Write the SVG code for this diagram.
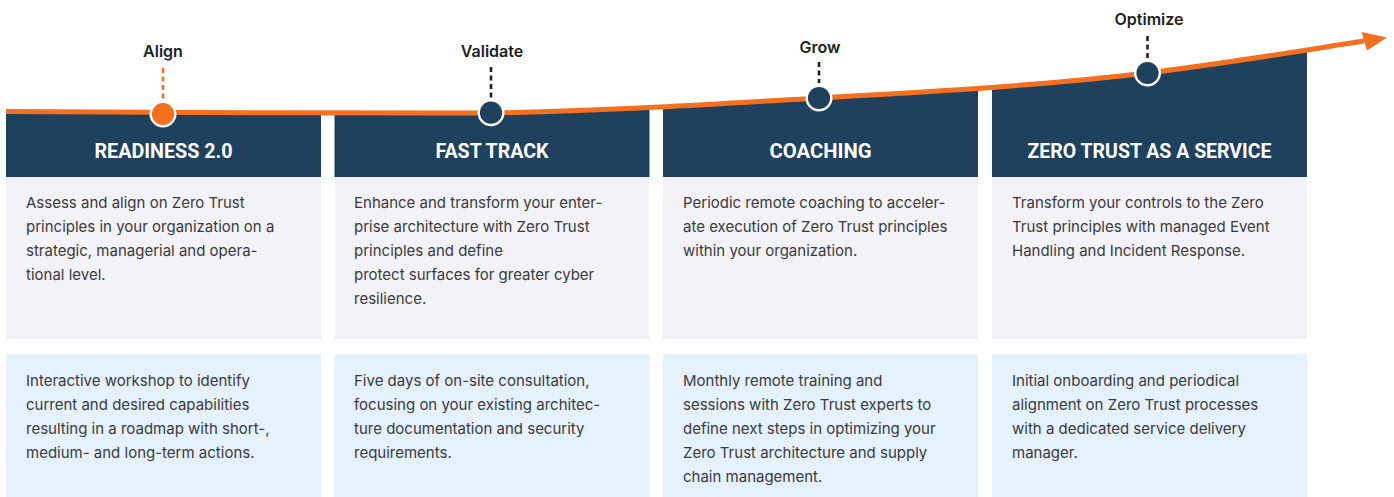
<svg xmlns="http://www.w3.org/2000/svg" width="1394" height="497" viewBox="0 0 1394 497">
  <style>
    .hdr { fill: #20415e; }
    .grey { fill: #f3f2f6; }
    .blue { fill: #e5f1fc; }
    .title { font-family: Roboto, "Liberation Sans", sans-serif; font-weight: 700; font-size: 20px; fill: #ffffff; text-anchor: middle; }
    .body { font-family: Inter, "Noto Sans", sans-serif; font-size: 15px; fill: #3a3a3a; }
    .label { font-family: Inter, "Noto Sans", sans-serif; font-weight: 600; font-size: 16px; fill: #222222; text-anchor: middle; }
    .dash { stroke-width: 2.6; stroke-dasharray: 5 3.5; fill: none; }
    .dot { stroke: #ffffff; stroke-width: 2.4; }
  </style>
  <defs>
    <clipPath id="underCurve">
      <path d="M6,111.5 C167,112.5 330,113.5 491,113 C600,111 710,104.5 819,98 C928,91.5 1038,86.1 1147,73 C1219,64.4 1292,52.2 1364,41 L1394,41 L1394,177 L6,177 Z"/>
    </clipPath>
  </defs>
  <rect width="1394" height="497" fill="#ffffff"/>

  <g id="col-readiness">
    <rect class="hdr" x="6" y="0" width="315" height="177" clip-path="url(#underCurve)"/>
    <text class="title" x="163.5" y="158" textLength="138" lengthAdjust="spacingAndGlyphs">READINESS 2.0</text>
    <rect class="grey" x="6" y="177" width="315" height="162"/>
    <text class="body" x="26" y="208">Assess and align on Zero Trust</text>
    <text class="body" x="26" y="232">principles in your organization on a</text>
    <text class="body" x="26" y="256">strategic, managerial and opera-</text>
    <text class="body" x="26" y="280">tional level.</text>
    <rect class="blue" x="6" y="354" width="315" height="143"/>
    <text class="body" x="26" y="386">Interactive workshop to identify</text>
    <text class="body" x="26" y="410">current and desired capabilities</text>
    <text class="body" x="26" y="434">resulting in a roadmap with short-,</text>
    <text class="body" x="26" y="458">medium- and long-term actions.</text>
  </g>

  <g id="col-fasttrack">
    <rect class="hdr" x="334.5" y="0" width="315" height="177" clip-path="url(#underCurve)"/>
    <text class="title" x="492" y="158" textLength="113" lengthAdjust="spacingAndGlyphs">FAST TRACK</text>
    <rect class="grey" x="334.5" y="177" width="315" height="162"/>
    <text class="body" x="354" y="208">Enhance and transform your enter-</text>
    <text class="body" x="354" y="232">prise architecture with Zero Trust</text>
    <text class="body" x="354" y="256">principles and define</text>
    <text class="body" x="354" y="280">protect surfaces for greater cyber</text>
    <text class="body" x="354" y="304">resilience.</text>
    <rect class="blue" x="334.5" y="354" width="315" height="143"/>
    <text class="body" x="354" y="386">Five days of on-site consultation,</text>
    <text class="body" x="354" y="410">focusing on your existing architec-</text>
    <text class="body" x="354" y="434">ture documentation and security</text>
    <text class="body" x="354" y="458">requirements.</text>
  </g>

  <g id="col-coaching">
    <rect class="hdr" x="663" y="0" width="315" height="177" clip-path="url(#underCurve)"/>
    <text class="title" x="820.5" y="158" textLength="102" lengthAdjust="spacingAndGlyphs">COACHING</text>
    <rect class="grey" x="663" y="177" width="315" height="162"/>
    <text class="body" x="683" y="208">Periodic remote coaching to acceler-</text>
    <text class="body" x="683" y="232">ate execution of Zero Trust principles</text>
    <text class="body" x="683" y="256">within your organization.</text>
    <rect class="blue" x="663" y="354" width="315" height="143"/>
    <text class="body" x="683" y="386">Monthly remote training and</text>
    <text class="body" x="683" y="410">sessions with Zero Trust experts to</text>
    <text class="body" x="683" y="434">define next steps in optimizing your</text>
    <text class="body" x="683" y="458">Zero Trust architecture and supply</text>
    <text class="body" x="683" y="482">chain management.</text>
  </g>

  <g id="col-ztaas">
    <rect class="hdr" x="992" y="0" width="315" height="177" clip-path="url(#underCurve)"/>
    <text class="title" x="1149.5" y="158" textLength="244" lengthAdjust="spacingAndGlyphs">ZERO TRUST AS A SERVICE</text>
    <rect class="grey" x="992" y="177" width="315" height="162"/>
    <text class="body" x="1012" y="208">Transform your controls to the Zero</text>
    <text class="body" x="1012" y="232">Trust principles with managed Event</text>
    <text class="body" x="1012" y="256">Handling and Incident Response.</text>
    <rect class="blue" x="992" y="354" width="315" height="143"/>
    <text class="body" x="1012" y="386">Initial onboarding and periodical</text>
    <text class="body" x="1012" y="410">alignment on Zero Trust processes</text>
    <text class="body" x="1012" y="434">with a dedicated service delivery</text>
    <text class="body" x="1012" y="458">manager.</text>
  </g>

  <g id="connectors">
    <path d="M6,111.5 C167,112.5 330,113.5 491,113 C600,111 710,104.5 819,98 C928,91.5 1038,86.1 1147,73 C1219,64.4 1292,52.2 1364,41" fill="none" stroke="#f37021" stroke-width="5"/>
    <polygon points="1361.5,32 1387,37.5 1367,50.5" fill="#f37021"/>
  </g>

  <g id="milestone-align">
    <text class="label" x="163" y="57">Align</text>
    <line class="dash" x1="163" y1="68" x2="163" y2="99" stroke="#f37021"/>
    <circle class="dot" cx="163" cy="114" r="12.3" fill="#f37021"/>
  </g>
  <g id="milestone-validate">
    <text class="label" x="492" y="57">Validate</text>
    <line class="dash" x1="491" y1="67" x2="491" y2="98" stroke="#222222"/>
    <circle class="dot" cx="491" cy="112.7" r="12.3" fill="#20415e"/>
  </g>
  <g id="milestone-grow">
    <text class="label" x="820" y="52.5">Grow</text>
    <line class="dash" x1="819" y1="62" x2="819" y2="83" stroke="#222222"/>
    <circle class="dot" cx="819" cy="98" r="12.3" fill="#20415e"/>
  </g>
  <g id="milestone-optimize">
    <text class="label" x="1149" y="25">Optimize</text>
    <line class="dash" x1="1147.5" y1="36" x2="1147.5" y2="58" stroke="#222222"/>
    <circle class="dot" cx="1147.5" cy="73" r="12.3" fill="#20415e"/>
  </g>
</svg>
